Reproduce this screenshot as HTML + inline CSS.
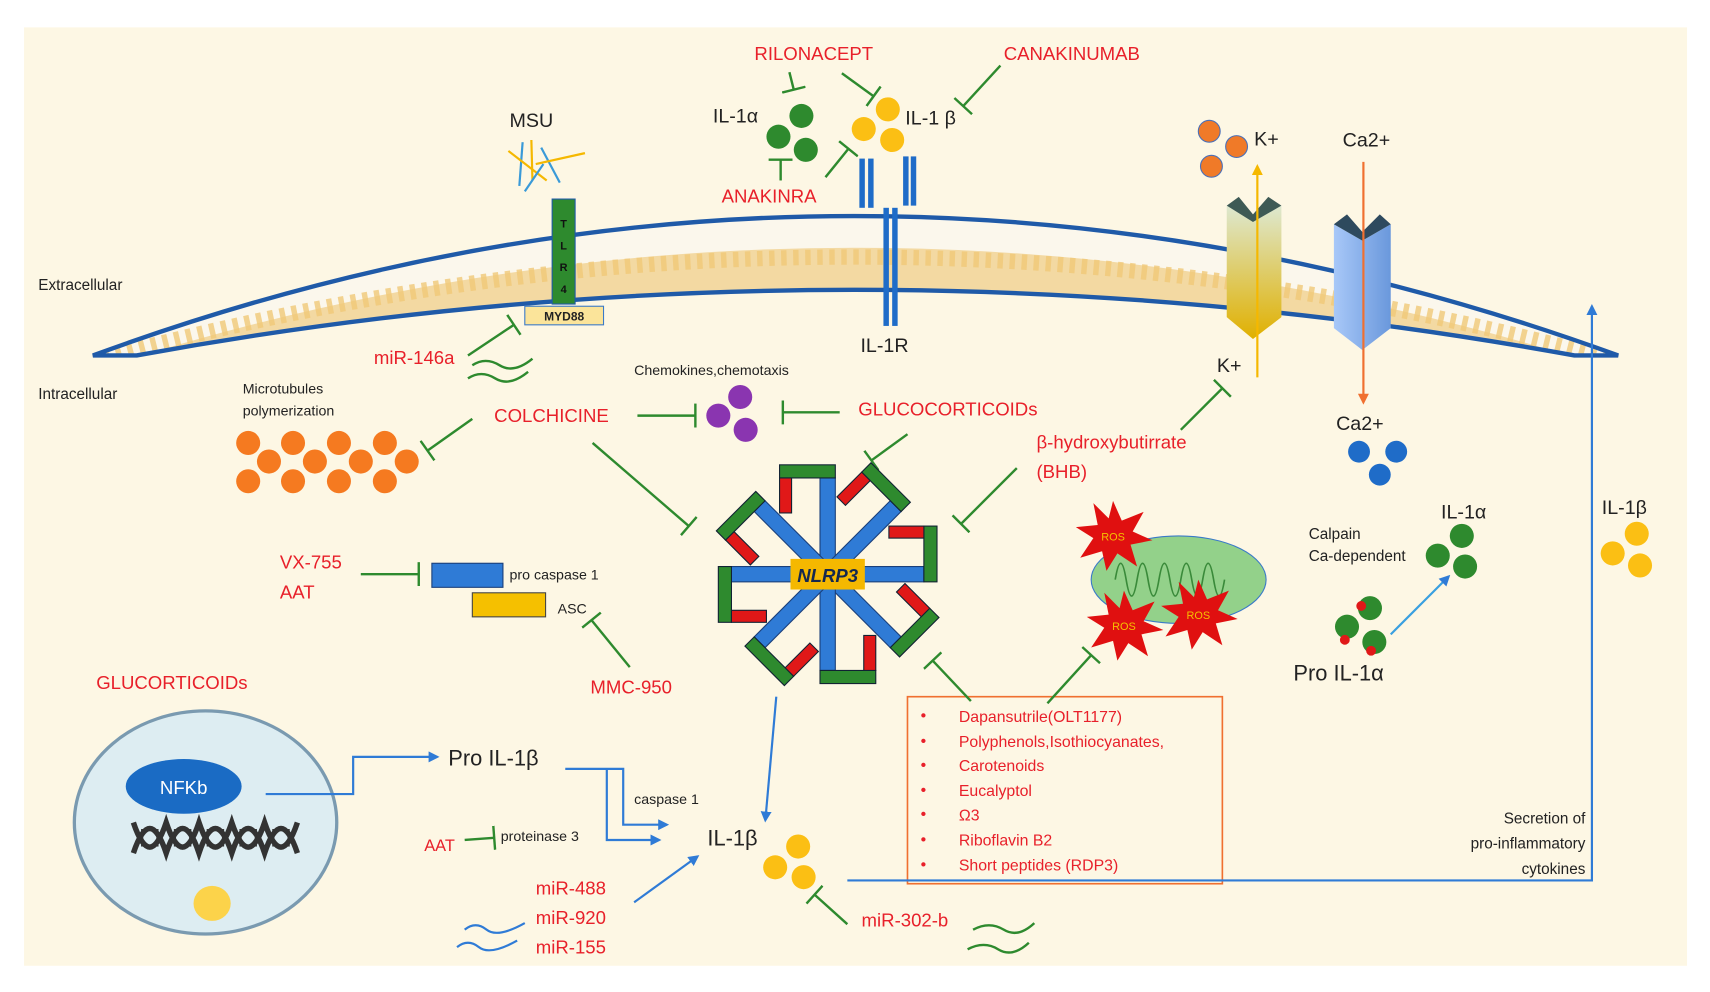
<!DOCTYPE html>
<html><head><meta charset="utf-8"><style>
html,body{margin:0;padding:0;background:#fff;}
svg{display:block;}
text{font-family:"Liberation Sans Narrow","Liberation Sans",sans-serif;}
.r{fill:#e8202a;font-size:17px;}
.k{fill:#222;font-size:18px;}
.s{fill:#222;font-size:13px;}
.g{stroke:#2e8a2e;stroke-width:2.2;fill:none;}
.b{stroke:#2f7bd6;stroke-width:2;fill:none;}
</style></head><body>
<svg width="1710" height="992" viewBox="0 0 1564 907" preserveAspectRatio="none" xmlns="http://www.w3.org/2000/svg">
<defs>
<marker id="ab" markerWidth="10" markerHeight="10" refX="8" refY="5" orient="auto" markerUnits="userSpaceOnUse"><path d="M0,0 L10,5 L0,10 z" fill="#2f7bd6"/></marker>
<marker id="ay" markerWidth="10" markerHeight="10" refX="8" refY="5" orient="auto" markerUnits="userSpaceOnUse"><path d="M0,0 L10,5 L0,10 z" fill="#f5b800"/></marker>
<marker id="ao" markerWidth="10" markerHeight="10" refX="8" refY="5" orient="auto" markerUnits="userSpaceOnUse"><path d="M0,0 L10,5 L0,10 z" fill="#f07030"/></marker>
<marker id="tb" markerWidth="4" markerHeight="22" refX="2" refY="11" orient="auto" markerUnits="userSpaceOnUse"><line x1="2" y1="0" x2="2" y2="22" stroke="#2e8a2e" stroke-width="2.2"/></marker>
<linearGradient id="ky" x1="0" x2="0" y1="0" y2="1"><stop offset="0" stop-color="#dde8d0"/><stop offset="1" stop-color="#e0b000"/></linearGradient>
<linearGradient id="cb" x1="0" x2="1"><stop offset="0" stop-color="#a8c8f8"/><stop offset="1" stop-color="#6a98dc"/></linearGradient>
<clipPath id="mc"><path d="M85,325 Q780,70 1480,325 L1440,325 Q780,205 125,325 Z"/></clipPath>
</defs>
<rect x="22" y="25" width="1521" height="858" fill="#fdf7e4"/>

<!-- membrane -->
<path d="M85,325 Q780,70 1480,325 L1440,325 Q780,205 125,325 Z" fill="#f3d9a2"/>
<g clip-path="url(#mc)">
<path d="M85,318 Q780,95 1480,318" fill="none" stroke="#fbf7ec" stroke-width="40"/>
<path d="M85,330 Q780,140 1480,330" fill="none" stroke="#f0c878" stroke-width="14" stroke-dasharray="5 6" opacity="0.8"/>
</g>
<path d="M85,325 Q780,70 1480,325 L1440,325 Q780,205 125,325 Z" fill="none" stroke="#1f5aa8" stroke-width="4"/>

<text x="35" y="265" class="s" style="font-size:14px">Extracellular</text>
<text x="35" y="365" class="s" style="font-size:14px">Intracellular</text>

<!-- MSU / TLR4 -->
<text x="466" y="116" class="k">MSU</text>
<g stroke-width="2"><line x1="478" y1="130" x2="475" y2="170" stroke="#3a9ad8"/><line x1="486" y1="128" x2="487" y2="165" stroke="#f5b800"/><line x1="495" y1="135" x2="512" y2="167" stroke="#3a9ad8"/><line x1="490" y1="150" x2="535" y2="140" stroke="#f5b800"/><line x1="465" y1="138" x2="500" y2="165" stroke="#f5b800"/><line x1="497" y1="150" x2="480" y2="175" stroke="#3a9ad8"/></g>
<rect x="505" y="182" width="21" height="96" fill="#2e8a2e" stroke="#1f5aa8"/>
<text x="515.5" y="208" text-anchor="middle" style="font-size:10px;font-weight:bold;fill:#111">T</text>
<text x="515.5" y="228" text-anchor="middle" style="font-size:10px;font-weight:bold;fill:#111">L</text>
<text x="515.5" y="248" text-anchor="middle" style="font-size:10px;font-weight:bold;fill:#111">R</text>
<text x="515.5" y="268" text-anchor="middle" style="font-size:10px;font-weight:bold;fill:#111">4</text>
<rect x="480" y="280" width="72" height="17" fill="#fbe49a" stroke="#3a7ac8"/>
<text x="516" y="293" text-anchor="middle" style="font-size:11px;font-weight:bold;fill:#222">MYD88</text>
<text x="342" y="333" class="r">miR-146a</text>
<line x1="428" y1="325" x2="470" y2="297" class="g" marker-end="url(#tb)"/>
<path d="M432,334 q12,-8 25,0 t30,-6" class="g"/><path d="M428,346 q12,-8 25,0 t30,-6" class="g"/>

<!-- IL-1 -->
<text x="690" y="55" class="r">RILONACEPT</text>
<text x="918" y="55" class="r">CANAKINUMAB</text>
<text x="652" y="112" class="k">IL-1α</text>
<g fill="#2e8a2e"><circle cx="733" cy="106" r="11"/><circle cx="712" cy="125" r="11"/><circle cx="737" cy="137" r="11"/></g>
<g fill="#fbbf14"><circle cx="812" cy="100" r="11"/><circle cx="790" cy="118" r="11"/><circle cx="816" cy="128" r="11"/></g>
<text x="828" y="114" class="k">IL-1 β</text>
<line x1="722" y1="66" x2="726" y2="82" class="g" marker-end="url(#tb)"/>
<line x1="770" y1="67" x2="799" y2="88" class="g" marker-end="url(#tb)"/>
<line x1="915" y1="60" x2="881" y2="97" class="g" marker-end="url(#tb)"/>
<text x="660" y="185" class="r">ANAKINRA</text>
<line x1="714" y1="165" x2="714" y2="146" class="g" marker-end="url(#tb)"/>
<line x1="755" y1="162" x2="776" y2="136" class="g" marker-end="url(#tb)"/>
<g fill="#1f6cc8"><rect x="786" y="145" width="5" height="45"/><rect x="794" y="145" width="5" height="45"/><rect x="826" y="143" width="5" height="45"/><rect x="833" y="143" width="5" height="45"/><rect x="808" y="190" width="5" height="108"/><rect x="816" y="190" width="5" height="108"/></g>
<text x="787" y="322" class="k">IL-1R</text>

<!-- K channel -->
<g fill="#f07a28" stroke="#4a70b8"><circle cx="1106" cy="120" r="10"/><circle cx="1131" cy="134" r="10"/><circle cx="1108" cy="152" r="10"/></g>
<text x="1147" y="133" class="k">K+</text>
<path d="M1122,188 L1146,203 L1172,188 L1172,290 L1146,310 L1122,290 Z" fill="url(#ky)"/>
<path d="M1122,188 L1133,180 L1146,196 L1160,180 L1172,188 L1146,203 Z" fill="#3e5a55"/>
<line x1="1150" y1="345" x2="1150" y2="152" stroke="#f5b800" stroke-width="2" marker-end="url(#ay)"/>
<text x="1113" y="340" class="k">K+</text>
<path d="M1220,205 L1246,220 L1272,205 L1272,300 L1246,320 L1220,300 Z" fill="url(#cb)"/>
<path d="M1220,205 L1232,196 L1246,212 L1262,196 L1272,205 L1246,220 Z" fill="#2e4a5e"/>
<text x="1228" y="134" class="k">Ca2+</text>
<line x1="1247" y1="148" x2="1247" y2="368" stroke="#f07030" stroke-width="2" marker-end="url(#ao)"/>
<text x="1222" y="393" class="k">Ca2+</text>
<g fill="#1f6cc8"><circle cx="1243" cy="413" r="10"/><circle cx="1277" cy="413" r="10"/><circle cx="1262" cy="434" r="10"/></g>

<!-- chemokines / colchicine -->
<text x="580" y="343" class="s">Chemokines,chemotaxis</text>
<g fill="#8a35b0"><circle cx="677" cy="363" r="11"/><circle cx="657" cy="380" r="11"/><circle cx="682" cy="393" r="11"/></g>
<text x="452" y="386" class="r">COLCHICINE</text>
<text x="785" y="380" class="r">GLUCOCORTICOIDs</text>
<line x1="583" y1="380" x2="636" y2="380" class="g" marker-end="url(#tb)"/>
<line x1="768" y1="377" x2="716" y2="377" class="g" marker-end="url(#tb)"/>
<text x="222" y="360" class="s">Microtubules</text>
<text x="222" y="380" class="s">polymerization</text>
<g fill="#f57a20"><circle cx="227" cy="405" r="11"/><circle cx="268" cy="405" r="11"/><circle cx="310" cy="405" r="11"/><circle cx="352" cy="405" r="11"/><circle cx="246" cy="422" r="11"/><circle cx="288" cy="422" r="11"/><circle cx="330" cy="422" r="11"/><circle cx="372" cy="422" r="11"/><circle cx="227" cy="440" r="11"/><circle cx="268" cy="440" r="11"/><circle cx="310" cy="440" r="11"/><circle cx="352" cy="440" r="11"/></g>
<line x1="432" y1="383" x2="391" y2="412" class="g" marker-end="url(#tb)"/>
<line x1="542" y1="405" x2="630" y2="481" class="g" marker-end="url(#tb)"/>
<line x1="830" y1="397" x2="797" y2="421" class="g" marker-end="url(#tb)"/>
<text x="948" y="410" class="r">β-hydroxybutirrate</text>
<text x="948" y="437" class="r">(BHB)</text>
<line x1="930" y1="428" x2="879" y2="479" class="g" marker-end="url(#tb)"/>
<line x1="1080" y1="393" x2="1118" y2="355" class="g" marker-end="url(#tb)"/>

<!-- NLRP3 -->
<g transform="translate(757,525)">
<g id="arm"><rect x="-7" y="-88" width="14" height="88" fill="#2f7bd6" stroke="#1a3f7a"/><rect x="-44" y="-100" width="51" height="12" fill="#2e8a2e" stroke="#123"/><rect x="-44" y="-88" width="11" height="32" fill="#e01818" stroke="#123"/></g>
<use href="#arm" transform="rotate(45)"/><use href="#arm" transform="rotate(90)"/><use href="#arm" transform="rotate(135)"/><use href="#arm" transform="rotate(180)"/><use href="#arm" transform="rotate(225)"/><use href="#arm" transform="rotate(270)"/><use href="#arm" transform="rotate(315)"/>
<rect x="-34" y="-14" width="68" height="28" fill="#f5b800"/>
<text x="0" y="7" text-anchor="middle" style="font-size:17px;font-weight:bold;font-style:italic;fill:#142850;font-family:'Liberation Sans',sans-serif">NLRP3</text>
</g>

<!-- mitochondria -->
<ellipse cx="1078" cy="530" rx="80" ry="40" fill="#93d18a" stroke="#3a7ac8"/>
<path d="M1020,530 q5,-30 10,0 q5,30 10,0 q5,-30 10,0 q5,30 10,0 q5,-30 10,0 q5,30 10,0 q5,-30 10,0 q5,30 10,0 q5,-30 10,0 q5,30 10,0" fill="none" stroke="#3a8a3a" stroke-width="1.5"/>
<g fill="#e01010">
<polygon transform="translate(1018,490)" points="0,-32 8,-14 28,-22 18,-4 36,4 16,8 22,28 4,16 -6,32 -10,14 -30,20 -18,2 -34,-8 -14,-10 -18,-30 -4,-16"/>
<polygon transform="translate(1028,572)" points="0,-32 8,-14 28,-22 18,-4 36,4 16,8 22,28 4,16 -6,32 -10,14 -30,20 -18,2 -34,-8 -14,-10 -18,-30 -4,-16"/>
<polygon transform="translate(1096,562)" points="0,-32 8,-14 28,-22 18,-4 36,4 16,8 22,28 4,16 -6,32 -10,14 -30,20 -18,2 -34,-8 -14,-10 -18,-30 -4,-16"/>
</g>
<g style="font-size:10px;fill:#f5c000" text-anchor="middle"><text x="1018" y="494">ROS</text><text x="1028" y="576">ROS</text><text x="1096" y="566">ROS</text></g>

<!-- caspase -->
<text x="256" y="520" class="r">VX-755</text>
<text x="256" y="547" class="r">AAT</text>
<line x1="330" y1="525" x2="383" y2="525" class="g" marker-end="url(#tb)"/>
<rect x="395" y="515" width="65" height="22" fill="#2f7bd6" stroke="#1a3f7a"/>
<rect x="432" y="542" width="67" height="22" fill="#f5c000" stroke="#444"/>
<text x="466" y="530" class="s">pro caspase 1</text>
<text x="510" y="561" class="s">ASC</text>
<text x="540" y="634" class="r">MMC-950</text>
<line x1="576" y1="610" x2="541" y2="567" class="g" marker-end="url(#tb)"/>

<!-- nucleus -->
<text x="88" y="630" class="r">GLUCORTICOIDs</text>
<line x1="187" y1="650" x2="184" y2="685" class="g" marker-end="url(#tb)"/>
<ellipse cx="188" cy="752" rx="120" ry="102" fill="#ddedf2" stroke="#7a9ab0" stroke-width="3"/>
<ellipse cx="168" cy="719" rx="53" ry="25" fill="#1a6bc4"/>
<text x="168" y="726" text-anchor="middle" style="font-size:17px;fill:#fff">NFKb</text>
<path d="M122,752 C132,782 142,782 152,752 C162,782 172,782 182,752 C192,782 202,782 212,752 C222,782 232,782 242,752 C252,782 262,782 272,752" fill="none" stroke="#333" stroke-width="5"/>
<path d="M122,780 C132,750 142,750 152,780 C162,750 172,750 182,780 C192,750 202,750 212,780 C222,750 232,750 242,780 C252,750 262,750 272,780" fill="none" stroke="#333" stroke-width="5"/>
<g stroke="#333" stroke-width="2"><line x1="130" y1="758" x2="130" y2="774"/><line x1="144" y1="758" x2="144" y2="774"/><line x1="160" y1="758" x2="160" y2="774"/><line x1="174" y1="758" x2="174" y2="774"/><line x1="190" y1="758" x2="190" y2="774"/><line x1="204" y1="758" x2="204" y2="774"/><line x1="220" y1="758" x2="220" y2="774"/><line x1="234" y1="758" x2="234" y2="774"/><line x1="250" y1="758" x2="250" y2="774"/><line x1="264" y1="758" x2="264" y2="774"/></g>
<ellipse cx="194" cy="826" rx="17" ry="16" fill="#fcd34a"/>
<polyline points="243,726 323,726 323,692 400,692" class="b" marker-end="url(#ab)"/>
<text x="410" y="700" class="k" style="font-size:20px">Pro IL-1β</text>
<polyline points="517,703 570,703 570,754 610,754" class="b" marker-end="url(#ab)"/>
<polyline points="555,703 555,768 603,768" class="b" marker-end="url(#ab)"/>
<text x="580" y="735" class="s">caspase 1</text>
<text x="388" y="778" class="r" style="font-size:15px">AAT</text>
<line x1="425" y1="768" x2="452" y2="766" class="g" marker-end="url(#tb)"/>
<text x="458" y="769" class="s">proteinase 3</text>
<text x="647" y="773" class="k" style="font-size:20px">IL-1β</text>
<g fill="#fbbf14"><circle cx="730" cy="774" r="11"/><circle cx="709" cy="793" r="11"/><circle cx="735" cy="802" r="11"/></g>
<line x1="710" y1="637" x2="700" y2="750" class="b" marker-end="url(#ab)"/>
<text x="490" y="818" class="r">miR-488</text>
<text x="490" y="845" class="r">miR-920</text>
<text x="490" y="872" class="r">miR-155</text>
<line x1="580" y1="825" x2="638" y2="783" class="b" marker-end="url(#ab)"/>
<path d="M425,850 q10,-8 20,0 t35,-6" class="b"/><path d="M418,866 q10,-8 20,0 t35,-6" class="b"/>
<text x="788" y="847" class="r">miR-302-b</text>
<line x1="775" y1="845" x2="745" y2="818" class="g" marker-end="url(#tb)"/>
<path d="M890,850 q15,-8 28,0 t28,-6" class="g"/><path d="M885,868 q15,-8 28,0 t28,-6" class="g"/>

<!-- box -->
<rect x="830" y="637" width="288" height="171" fill="none" stroke="#f07030" stroke-width="1.5"/>
<g class="r" style="font-size:14.5px">
<text x="877" y="660">Dapansutrile(OLT1177)</text><text x="877" y="683">Polyphenols,Isothiocyanates,</text><text x="877" y="705">Carotenoids</text><text x="877" y="728">Eucalyptol</text><text x="877" y="750">Ω3</text><text x="877" y="773">Riboflavin B2</text><text x="877" y="796">Short peptides (RDP3)</text>
<text x="842" y="659">•</text><text x="842" y="682">•</text><text x="842" y="704">•</text><text x="842" y="727">•</text><text x="842" y="749">•</text><text x="842" y="772">•</text><text x="842" y="795">•</text>
</g>
<line x1="888" y1="641" x2="853" y2="604" class="g" marker-end="url(#tb)"/>
<line x1="958" y1="643" x2="998" y2="599" class="g" marker-end="url(#tb)"/>

<!-- secretion -->
<g class="s" text-anchor="end" style="font-size:14px"><text x="1450" y="753">Secretion of</text><text x="1450" y="776">pro-inflammatory</text><text x="1450" y="799">cytokines</text></g>
<polyline points="775,805 1456,805 1456,280" class="b" marker-end="url(#ab)"/>
<text x="1465" y="470" class="k">IL-1β</text>
<g fill="#fbbf14"><circle cx="1497" cy="488" r="11"/><circle cx="1475" cy="506" r="11"/><circle cx="1500" cy="517" r="11"/></g>
<text x="1197" y="493" class="s" style="font-size:14px">Calpain</text>
<text x="1197" y="513" class="s" style="font-size:14px">Ca-dependent</text>
<text x="1318" y="474" class="k">IL-1α</text>
<g fill="#2e8a2e"><circle cx="1337" cy="490" r="11"/><circle cx="1315" cy="508" r="11"/><circle cx="1340" cy="518" r="11"/></g>
<g fill="#2e8a2e"><circle cx="1253" cy="556" r="11"/><circle cx="1232" cy="573" r="11"/><circle cx="1257" cy="587" r="11"/></g>
<g fill="#e01818"><circle cx="1245" cy="554" r="4.5"/><circle cx="1230" cy="585" r="4.5"/><circle cx="1254" cy="595" r="4.5"/></g>
<line x1="1272" y1="580" x2="1325" y2="527" stroke="#3aa0e0" stroke-width="2" marker-end="url(#ab)"/>
<text x="1183" y="622" class="k" style="font-size:20px">Pro IL-1α</text>
</svg>
</body></html>
